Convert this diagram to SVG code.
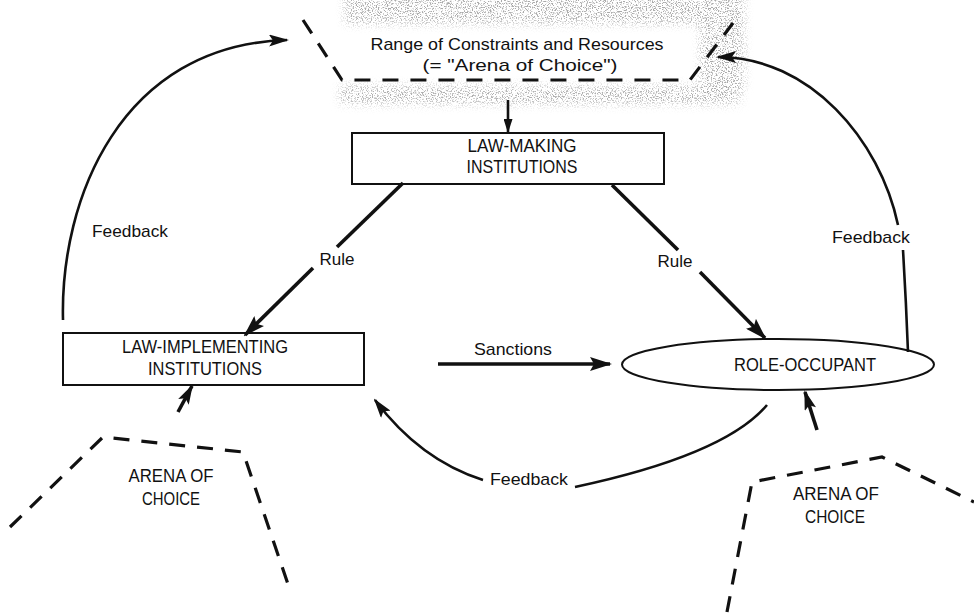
<svg xmlns="http://www.w3.org/2000/svg" width="974" height="614" viewBox="0 0 974 614">
<style>
text{font-family:"Liberation Sans",Arial,sans-serif;fill:#111;}
.t16{font-size:17px;text-anchor:middle;}
.cap{font-size:18px;text-anchor:middle;}
.lbl{font-size:17px;text-anchor:middle;}
.box{fill:#fff;stroke:#111;stroke-width:2;}
.dash{fill:none;stroke:#111;stroke-width:3.2;stroke-dasharray:16 12;}
.rule{fill:none;stroke:#111;stroke-width:3.6;}
.fb{fill:none;stroke:#111;stroke-width:2.6;}
</style>
<defs>
<filter id="stip" x="0" y="0" width="100%" height="100%">
<feTurbulence type="fractalNoise" baseFrequency="0.8" numOctaves="2" seed="7"/>
<feColorMatrix type="matrix" values="0 0 0 0 0.4  0 0 0 0 0.4  0 0 0 0 0.4  6 0 0 0 -3.0"/>
</filter>
<filter id="soft"><feGaussianBlur stdDeviation="5"/></filter>
<mask id="stipMask" maskUnits="userSpaceOnUse" x="0" y="0" width="974" height="614">
<g fill="#fff" filter="url(#soft)">
<rect x="345" y="-10" width="370" height="34"/>
<rect x="700" y="-10" width="44" height="100"/>
<rect x="340" y="86" width="400" height="18"/>
</g>
</mask>
<marker id="ahR" viewBox="0 0 22 14" refX="20" refY="7" markerWidth="22" markerHeight="14" orient="auto" markerUnits="userSpaceOnUse"><path d="M0,0 L22,7 L0,14 L4,7 z" fill="#111"/></marker>
<marker id="ahF" viewBox="0 0 20 12" refX="18" refY="6" markerWidth="20" markerHeight="12" orient="auto" markerUnits="userSpaceOnUse"><path d="M0,0 L20,6 L0,12 L4,6 z" fill="#111"/></marker>
<marker id="ahS" viewBox="0 0 14 9" refX="13" refY="4.5" markerWidth="14" markerHeight="9" orient="auto" markerUnits="userSpaceOnUse"><path d="M0,0 L14,4.5 L0,9 z" fill="#111"/></marker>
</defs>
<rect width="974" height="614" fill="#fff"/>

<g id="arena-top">
<g mask="url(#stipMask)">
<rect x="320" y="0" width="440" height="115" fill="#000" filter="url(#stip)"/>
</g>
<path class="dash" d="M303,20 L342,80 L690,80 L733,23"/>
<text class="t16" x="517" y="50" textLength="293" lengthAdjust="spacingAndGlyphs">Range of Constraints and Resources</text>
<text class="t16" x="520" y="71" textLength="195" lengthAdjust="spacingAndGlyphs">(= "Arena of Choice")</text>
</g>

<g id="law-making">
<rect class="box" x="352" y="133" width="312" height="51"/>
<text class="cap" x="522" y="152" textLength="109" lengthAdjust="spacingAndGlyphs">LAW-MAKING</text>
<text class="cap" x="522" y="173" textLength="111" lengthAdjust="spacingAndGlyphs">INSTITUTIONS</text>
</g>

<g id="law-implementing">
<rect class="box" x="63" y="333" width="301" height="52"/>
<text class="cap" x="205" y="353" textLength="166" lengthAdjust="spacingAndGlyphs">LAW-IMPLEMENTING</text>
<text class="cap" x="205" y="375" textLength="114" lengthAdjust="spacingAndGlyphs">INSTITUTIONS</text>
</g>

<g id="role-occupant">
<ellipse cx="778" cy="364.5" rx="156" ry="25.5" fill="#fff" stroke="#111" stroke-width="2"/>
<text class="cap" x="805" y="371" textLength="142" lengthAdjust="spacingAndGlyphs">ROLE-OCCUPANT</text>
</g>

<g id="arena-left">
<path class="dash" d="M10,527 L103,437 L243,452 L290,590"/>
<text class="cap" x="171" y="482" textLength="85" lengthAdjust="spacingAndGlyphs">ARENA OF</text>
<text class="cap" x="171" y="505" textLength="58" lengthAdjust="spacingAndGlyphs">CHOICE</text>
</g>

<g id="arena-right">
<path class="dash" d="M727,612 L752,482 L882,457 L974,502"/>
<text class="cap" x="836" y="500" textLength="86" lengthAdjust="spacingAndGlyphs">ARENA OF</text>
<text class="cap" x="835" y="523" textLength="60" lengthAdjust="spacingAndGlyphs">CHOICE</text>
</g>

<g id="connectors">
<path class="fb" stroke-width="2" d="M508,100 L508,132" marker-end="url(#ahS)"/>
<path class="rule" d="M403,183 L337,247"/>
<path class="rule" d="M313,268 L245,335" marker-end="url(#ahR)"/>
<text class="lbl" x="337" y="265">Rule</text>
<path class="rule" d="M612,185 L678,250"/>
<path class="rule" d="M700,272 L765,338" marker-end="url(#ahR)"/>
<text class="lbl" x="675" y="267">Rule</text>
<path class="rule" stroke-width="3" d="M438,364 L610,364" marker-end="url(#ahR)"/>
<text class="lbl" x="513" y="355" textLength="78" lengthAdjust="spacingAndGlyphs">Sanctions</text>
<path class="rule" stroke-width="3" d="M178,412 L192,386" marker-end="url(#ahF)"/>
<path class="rule" stroke-width="3" d="M817,430 L805,392" marker-end="url(#ahF)"/>
<path class="fb" d="M63,320 C60,200 120,45 287,40" marker-end="url(#ahF)"/>
<text class="lbl" x="130" y="237" textLength="76" lengthAdjust="spacingAndGlyphs">Feedback</text>
<path class="fb" d="M908,352 Q906,300 903,250"/>
<path class="fb" d="M898,225 C880,140 810,57 718,57" marker-end="url(#ahF)"/>
<text class="lbl" x="871" y="243" textLength="78" lengthAdjust="spacingAndGlyphs">Feedback</text>
<path class="fb" d="M767,405 Q725,455 575,487"/>
<path class="fb" d="M483,480 Q420,460 375,400" marker-end="url(#ahF)"/>
<text class="lbl" x="529" y="485" textLength="78" lengthAdjust="spacingAndGlyphs">Feedback</text>
</g>
</svg>
